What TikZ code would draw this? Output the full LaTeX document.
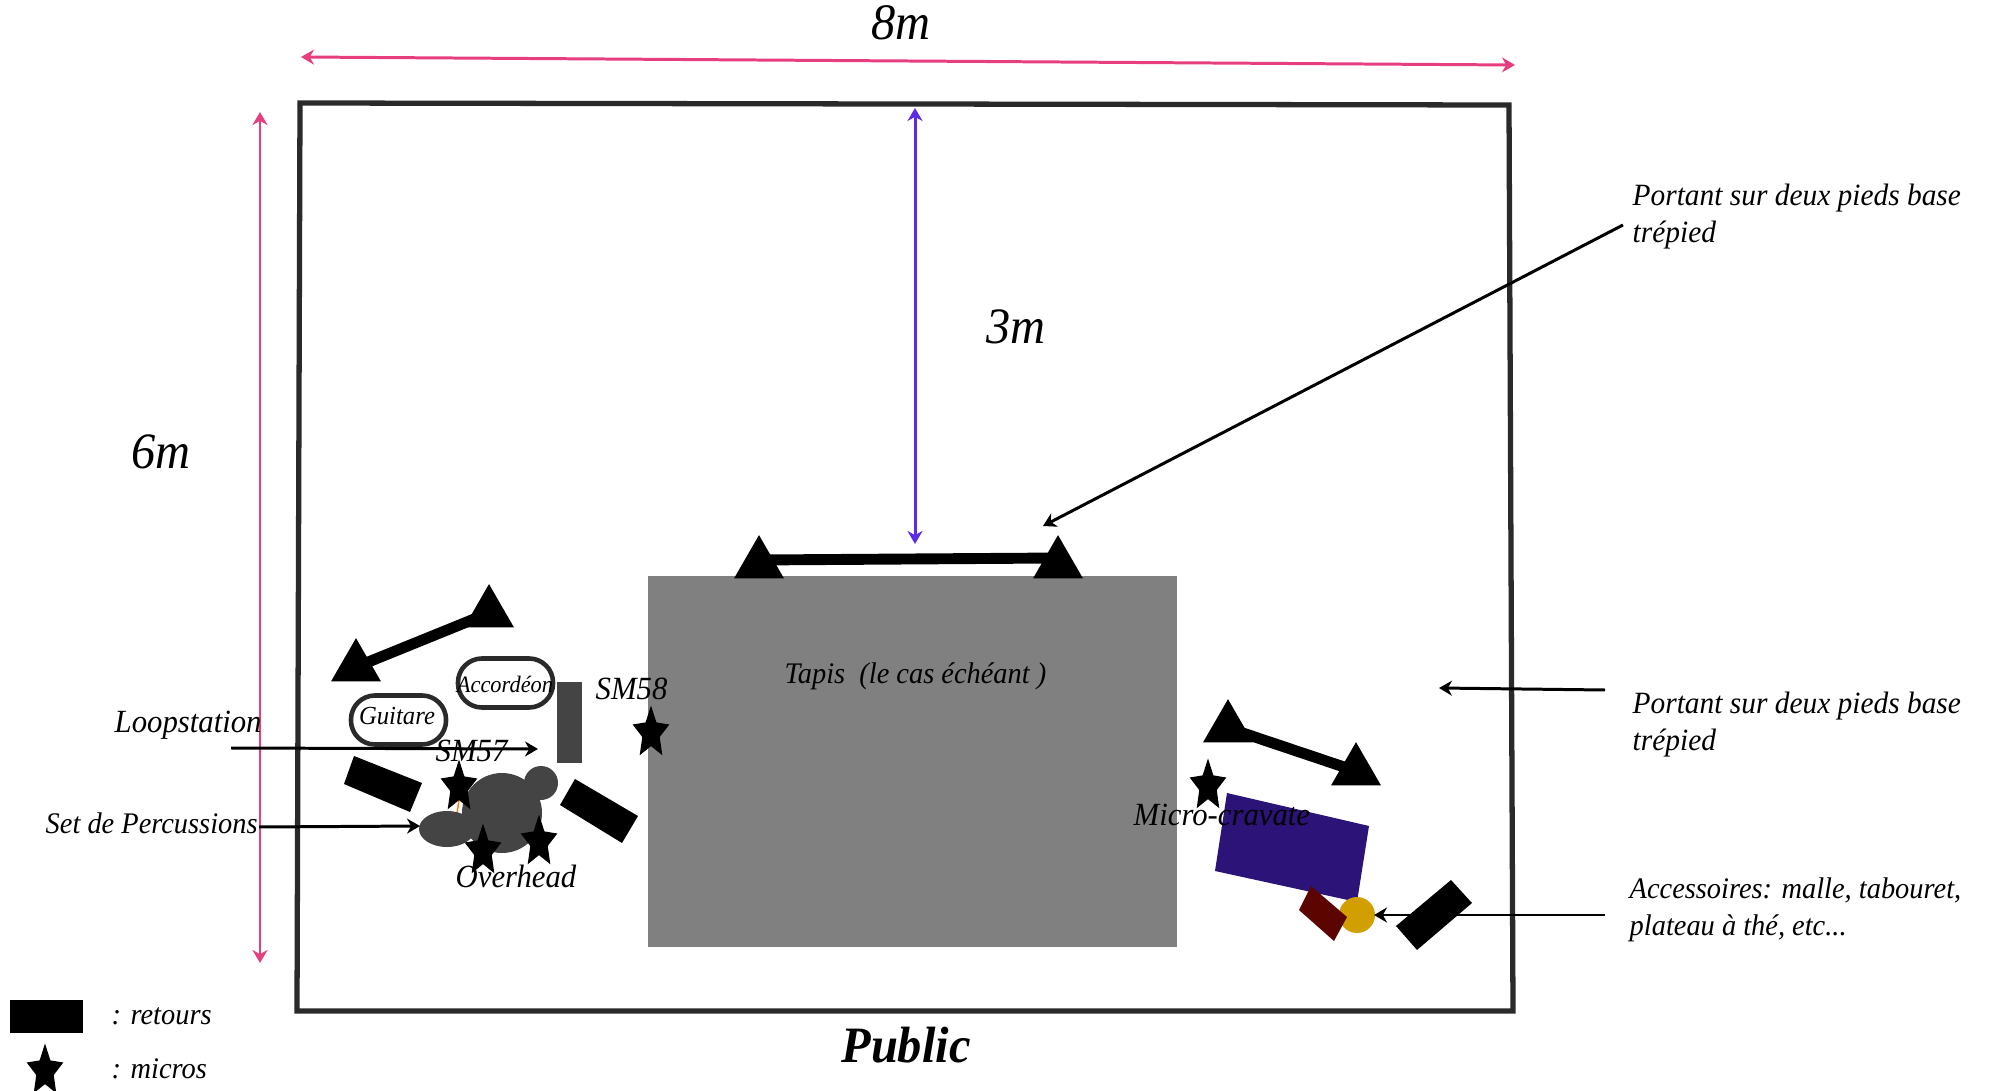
\documentclass[tikz,border=0pt]{standalone}
\usepackage{fontspec}
\setmainfont[FakeStretch=0.95]{Liberation Serif}
\usetikzlibrary{shapes.geometric, arrows.meta, positioning}
\definecolor{stagepink}{RGB}{230, 62, 127}
\definecolor{stageviolet}{RGB}{91, 43, 230}
\definecolor{carpetgray}{RGB}{128, 128, 128}
\definecolor{drumgray}{RGB}{68, 68, 68}
\definecolor{framegray}{RGB}{42, 42, 42}
\definecolor{trunkblue}{RGB}{43, 19, 119}
\definecolor{stooldred}{RGB}{92, 5, 0}
\definecolor{trayyellow}{RGB}{210, 159, 0}
\begin{document}
\begin{tikzpicture}[
    x=0.01cm, y=-0.01cm,
    >={Stealth[length=0.13cm,width=0.15cm]},
    label/.style={font=\itshape\fontsize{9.2}{11}\selectfont, inner sep=0pt, align=left},
    longlabel/.style={font=\itshape\fontsize{8.8}{10.6}\selectfont, inner sep=0pt, align=left},
    smalllabel/.style={font=\itshape\fontsize{8.5}{10.6}\selectfont, inner sep=0pt, align=left},
    dimtext/.style={font=\itshape\fontsize{14.5}{16}\selectfont, inner sep=0pt},
    foot/.style={regular polygon, regular polygon sides=3, fill=black, minimum size=0.577cm, inner sep=0pt},
    mic/.style={star, star points=5, star point ratio=2.1, fill=black, minimum size=0.55cm, inner sep=0pt, xscale=0.7, transform shape},
    instrument/.style={rounded corners=0.24cm, draw=framegray, line width=1.3pt, fill=white, minimum width=0.95cm, minimum height=0.49cm, inner sep=0pt},
    rack/.style={line width=3.1pt},
    arrow/.style={line width=0.85pt,->},
    pinkarrow/.style={line width=0.85pt,<->, draw=stagepink},
    violetarrow/.style={line width=0.85pt,<->, draw=stageviolet}
]
\useasboundingbox (0,0) rectangle (1990,1091);

% Carpet
\fill [carpetgray] (648,576) rectangle (1177,947);
\node (carpet) [smalllabel, anchor=west] at (784,676) {Tapis \ (le cas échéant )};

% Stage
\draw [framegray, line width=1.5pt] (300,103) -- (1509,105) -- (1513,1011) -- (297,1011) -- cycle;

% Dimensions
\coordinate (widthA) at (301,57);
\coordinate (widthB) at (1515,65);
\coordinate (depthA) at (260,112);
\coordinate (depthB) at (260,963);
\coordinate (backA) at (915,108);
\coordinate (backB) at (915,544);
\draw [pinkarrow] (widthA) -- (widthB);
\draw [pinkarrow] (depthA) -- (depthB);
\draw [violetarrow] (backA) -- (backB);
\node (eight) [dimtext] at (901,23) {8m};
\node (six) [dimtext] at (161,452) {6m};
\node (three) [dimtext] at (1016,327) {3m};

% Rack at the back
\node (backfootA) [foot] at (759,564) {};
\node (backfootB) [foot] at (1058,564) {};
\draw [rack] ([yshift=0.04cm]backfootA.center) -- ([yshift=0.06cm]backfootB.center);

% Rack on the left
\node (leftfootA) [foot] at (489,613) {};
\node (leftfootB) [foot] at (356,667) {};
\draw [rack] (leftfootA.center) -- (leftfootB.center);

% Rack on the right
\node (rightfootA) [foot] at (1228,728) {};
\node (rightfootB) [foot] at (1356,771) {};
\draw [rack] (rightfootA.center) -- (rightfootB.center);

% Instruments
\node (accordeonbox) [instrument] at (505.5,683) {};
\node (guitarebox) [instrument] at (398.5,720) {};
\node (accordeon) [label, font=\itshape\fontsize{6.7}{8}\selectfont] at (505,684) {Accordéon};
\node (guitare) [label, font=\itshape\fontsize{7.4}{8}\selectfont] at (397,716) {Guitare};
\fill [drumgray] (557,682) rectangle (582,763);

% Percussions
\draw [orange, thin] (459,800) -- (457,813);
\fill [drumgray] (502,813) circle (40);
\fill [drumgray] (541,783) circle (17);
\fill [drumgray] (447,829) ellipse (28 and 18);

% Retours
\fill (354,756) -- (422,783) -- (410,812) -- (344,784) -- cycle;
\fill (575,779) -- (638,816) -- (622,843) -- (560,805) -- cycle;
\fill (1451,880) -- (1472,903) -- (1417,950) -- (1396,926) -- cycle;
\fill (10,1000) rectangle (83,1033);

% Trunk and accessories
\fill [trunkblue] (1227,793) -- (1369,826) -- (1357,902) -- (1215,871) -- cycle;
\fill [trayyellow] (1357,915) circle (18);
\fill [stooldred] (1311,886) -- (1347,917) -- (1334,941) -- (1299,910) -- cycle;

% Micros
\node (micSMa) [mic] at (651,733) {};
\node (micSMb) [mic] at (459,787) {};
\node (micOHa) [mic] at (483,851) {};
\node (micOHb) [mic] at (539,842) {};
\node (micTie) [mic] at (1208,786) {};
\node (micKey) [mic] at (45,1071) {};

% Labels
\node (smfiveeight) [label, anchor=west] at (595,689) {SM58};
\node (smfiveseven) [label, anchor=west] at (435,751) {SM57};
\node (overhead) [label, anchor=west] at (455,876) {Overhead};
\node (cravate) [label, anchor=west] at (1133,815) {Micro-cravate};
\node (loop) [label, anchor=west] at (114,725) {Loopstation};
\node (percu) [smalllabel, anchor=west] at (45,823) {Set de Percussions};
\node (portantA) [longlabel, anchor=north west] at (1632,183) {Portant sur deux pieds base\\trépied};
\node (portantB) [longlabel, anchor=north west] at (1632,691) {Portant sur deux pieds base\\trépied};
\node (access) [smalllabel, anchor=north west] at (1629,877) {Accessoires: malle, tabouret,\\plateau à thé, etc...};
\node (keyretour) [smalllabel, anchor=west] at (111,1016) {: retours};
\node (keymicro) [smalllabel, anchor=west] at (111,1069) {: micros};
\node (public) [font=\bfseries\itshape\fontsize{14.5}{16}\selectfont, inner sep=0pt] at (906,1045) {Public};

% Pointers
\coordinate (loopA) at (231,748);
\coordinate (loopB) at (538,749);
\coordinate (percuA) at (259,827);
\coordinate (percuB) at (420,826);
\coordinate (portantAa) at (1623,225);
\coordinate (portantAb) at (1043,526);
\coordinate (portantBa) at (1605,690);
\coordinate (portantBb) at (1439,688);
\coordinate (accessA) at (1605,915);
\coordinate (accessB) at (1374,915);
\draw [arrow] (loopA) -- (loopB);
\draw [arrow] (percuA) -- (percuB);
\draw [arrow] (portantAa) -- (portantAb);
\draw [arrow] (portantBa) -- (portantBb);
\draw [arrow] (accessA) -- (accessB);

\end{tikzpicture}
\end{document}
